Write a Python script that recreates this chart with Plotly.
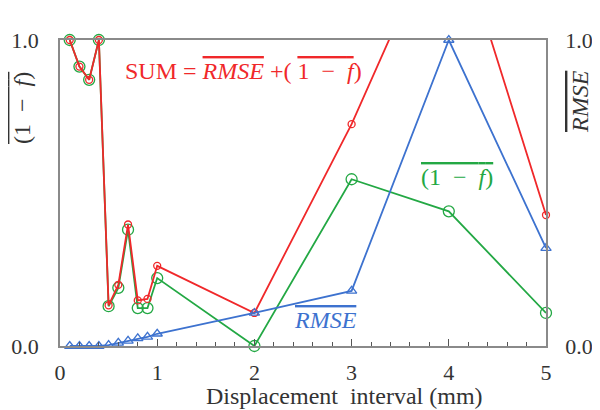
import plotly.graph_objects as go

x_vals = [0.1, 0.2, 0.3, 0.4, 0.5, 0.6, 0.7, 0.8, 0.9, 1.0, 2, 3, 4, 5]
rmse = [0.0, 0.0, 0.0, 0.0, 0.003, 0.01, 0.017, 0.025, 0.03, 0.04, 0.108, 0.18, 1.0, 0.32]
one_minus_f = [1.0, 0.913, 0.87, 1.0, 0.13, 0.19, 0.38, 0.124, 0.124, 0.222, 0.0, 0.545, 0.44, 0.108]
sum_vals = [1.0, 0.913, 0.87, 1.0, 0.133, 0.2, 0.397, 0.149, 0.154, 0.262, 0.108, 0.725, 1.44, 0.428]
x_ticks = [0, 1, 2, 3, 4, 5]

RED = "#f0282a"
GREEN = "#23a844"
BLUE = "#3d72cf"
FONT = "Liberation Serif"
TICK_FS = 22
TXT_FS = 24
ES = "\u2002"  # en space

def ov(s):
    return '<span style="text-decoration:overline">' + s + "</span>"

fig = go.Figure()
fig.add_trace(go.Scatter(x=x_vals, y=one_minus_f, mode="lines+markers",
                         line=dict(color=GREEN, width=1.8),
                         marker=dict(symbol="circle-open", size=11, color=GREEN, line=dict(width=1.3)),
                         cliponaxis=False, showlegend=False))
fig.add_trace(go.Scatter(x=x_vals, y=sum_vals, mode="lines+markers",
                         line=dict(color=RED, width=1.8),
                         marker=dict(symbol="circle-open", size=7, color=RED, line=dict(width=1.3)),
                         cliponaxis=False, showlegend=False))
fig.add_trace(go.Scatter(x=x_vals, y=rmse, mode="lines+markers", yaxis="y2",
                         line=dict(color=BLUE, width=1.8),
                         marker=dict(symbol="triangle-up-open", size=9, color=BLUE, line=dict(width=1.3)),
                         cliponaxis=False, showlegend=False))

axis_col = "#8a8a8a"
# page has an 8px body margin; figure sized so it ends exactly at 600x410
L, R, T, B = 52, 54, 32, 64
fig.update_layout(
    width=592, height=402,
    margin=dict(l=L, r=R, t=T, b=B, autoexpand=False),
    paper_bgcolor="white", plot_bgcolor="white",
    font=dict(family=FONT, size=TICK_FS, color="#333333"),
    xaxis=dict(range=[0, 5], tickvals=x_ticks, ticks="inside", ticklen=7, tickcolor="#555",
               showline=True, linecolor=axis_col, linewidth=1.5, mirror=True, showgrid=False,
               zeroline=False, automargin=False, ticklabelstandoff=6,
               minor=dict(dtick=0.2, ticks="inside", ticklen=4, tickcolor="#555", showgrid=False)),
    yaxis=dict(range=[0, 1], tickvals=[0, 1], ticktext=["0.0", "1.0"], ticks="", automargin=False,
               ticklabelstandoff=15,
               showline=True, linecolor=axis_col, linewidth=1.5, showgrid=False, zeroline=False),
    yaxis2=dict(range=[0, 1], tickvals=[0, 1], ticktext=["0.0", "1.0"], ticks="", overlaying="y",
                side="right", showline=True, linecolor=axis_col, linewidth=1.5, showgrid=False,
                zeroline=False, automargin=False, ticklabelstandoff=13),
)

# plot area in page pixels: x 60..546, y 40..346
PX0, PX1, PY0, PY1 = 60, 546, 40, 346
def px(xp):
    return (xp - PX0) / (PX1 - PX0)
def py(yp):
    return (PY1 - yp) / (PY1 - PY0)

def label(xp, yp, text, color, angle=0):
    fig.add_annotation(x=px(xp), y=py(yp), xref="paper", yref="paper", showarrow=False,
                       xanchor="center", yanchor="middle", textangle=angle, text=text,
                       font=dict(color=color, size=TXT_FS, family=FONT))

label(344, 396, "Displacement  interval (mm)", "#333333")
label(243, 71, "SUM = <i>" + ov("RMSE") + "</i> +( " + ov("1" + ES + "−" + ES + "<i>f</i>") + ")", RED)
label(457, 177, ov("(1" + ES + "−" + ES + "<i>f</i>)"), GREEN)
label(325, 320, "<i>" + ov("RMSE") + "</i>", BLUE)
label(22, 108, ov("(1" + ES + "−" + ES + "<i>f</i>)"), "#333333", -90)
label(580, 102, "<i>" + ov("RMSE") + "</i>", "#333333", -90)

fig.write_html("out.html")
